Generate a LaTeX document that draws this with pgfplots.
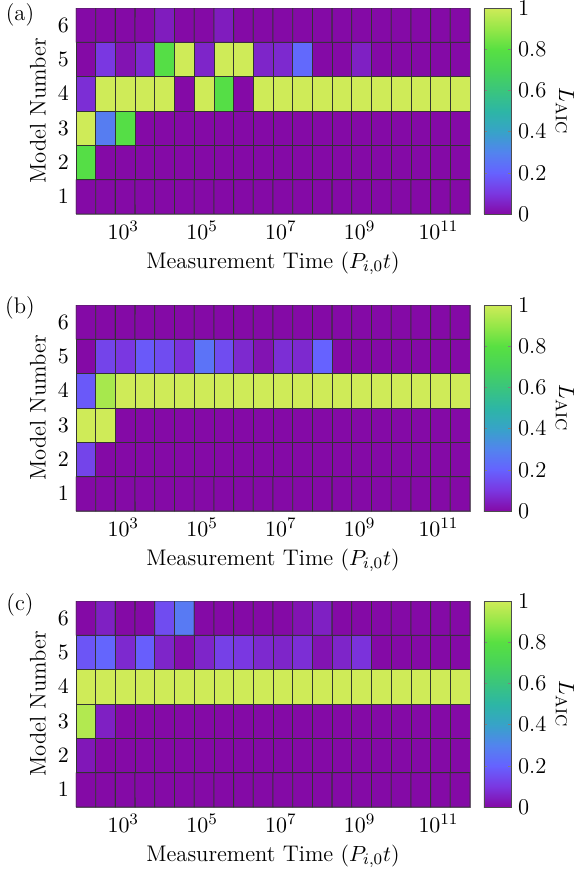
\documentclass[border=0pt]{standalone}
\usepackage{pgfplots}
\pgfplotsset{compat=1.18}
\pgfplotsset{
  colormap={aic}{rgb255(0cm)=(132,10,166); rgb255(1cm)=(122,55,225); rgb255(2cm)=(102,98,255); rgb255(3cm)=(82,132,238); rgb255(4cm)=(55,163,200); rgb255(5cm)=(45,182,165); rgb255(6cm)=(58,197,125); rgb255(7cm)=(72,212,88); rgb255(8cm)=(88,224,66); rgb255(9cm)=(150,231,72); rgb255(10cm)=(207,235,88)},
  hm/.style={
    scale only axis, width=197pt, height=103pt,
    anchor=north west,
    xmin=1.8, xmax=11.8, ymin=0.5, ymax=6.5,
    xtick={3,5,7,9,11},
    xticklabels={$10^{3}$,$10^{5}$,$10^{7}$,$10^{9}$,$10^{11}$},
    ytick={1,2,3,4,5,6},
    major tick length=0pt,
    axis line style={draw=black!55},
    colormap name=aic, point meta min=0, point meta max=1,
    colorbar,
    colorbar style={
      at={(1.0355,1)}, anchor=north west, width=13.5pt,
      ytick={0,0.2,0.4,0.6,0.8,1},
      yticklabels={0,0.2,0.4,0.6,0.8,1},
      major tick length=1.5pt,
      axis line style={draw=black!70},
      ylabel={$L_{\mathrm{AIC}}$},
      ylabel style={at={(axis description cs:3.0,0.5)}, anchor=center, rotate=180},
    },
    xlabel={Measurement Time $(P_{i,0}t)$},
    xlabel style={at={(axis description cs:0.5,-0.24)}, anchor=center},
    ylabel={Model Number},
    ylabel style={at={(axis description cs:-0.0965,0.5)}, anchor=center},
  },
  cells/.style={matrix plot*, mesh/cols=20, point meta=explicit, shader=faceted, faceted color=black!80, line width=0.4pt},
}
\begin{document}
\begin{tikzpicture}[font=\fontsize{11.3}{13.5}\selectfont]
\path[use as bounding box] (0,0) rectangle (288.5pt,-436.5pt);
% ---------------- (a)
\begin{axis}[hm, at={(38pt,-4pt)}]
\addplot[cells] coordinates {
(2.05,1)[0] (2.55,1)[0] (3.05,1)[0] (3.55,1)[0] (4.05,1)[0] (4.55,1)[0] (5.05,1)[0] (5.55,1)[0] (6.05,1)[0] (6.55,1)[0] (7.05,1)[0] (7.55,1)[0] (8.05,1)[0] (8.55,1)[0] (9.05,1)[0] (9.55,1)[0] (10.05,1)[0] (10.55,1)[0] (11.05,1)[0] (11.55,1)[0]
(2.05,2)[0.78] (2.55,2)[0] (3.05,2)[0] (3.55,2)[0] (4.05,2)[0] (4.55,2)[0] (5.05,2)[0] (5.55,2)[0] (6.05,2)[0] (6.55,2)[0] (7.05,2)[0] (7.55,2)[0] (8.05,2)[0] (8.55,2)[0] (9.05,2)[0] (9.55,2)[0] (10.05,2)[0] (10.55,2)[0] (11.05,2)[0] (11.55,2)[0]
(2.05,3)[1] (2.55,3)[0.28] (3.05,3)[0.78] (3.55,3)[0] (4.05,3)[0] (4.55,3)[0] (5.05,3)[0] (5.55,3)[0] (6.05,3)[0] (6.55,3)[0] (7.05,3)[0] (7.55,3)[0] (8.05,3)[0] (8.55,3)[0] (9.05,3)[0] (9.55,3)[0] (10.05,3)[0] (10.55,3)[0] (11.05,3)[0] (11.55,3)[0]
(2.05,4)[0.08] (2.55,4)[1] (3.05,4)[1] (3.55,4)[1] (4.05,4)[1] (4.55,4)[0] (5.05,4)[1] (5.55,4)[0.78] (6.05,4)[0] (6.55,4)[1] (7.05,4)[1] (7.55,4)[1] (8.05,4)[1] (8.55,4)[1] (9.05,4)[1] (9.55,4)[1] (10.05,4)[1] (10.55,4)[1] (11.05,4)[1] (11.55,4)[1]
(2.05,5)[0] (2.55,5)[0.1] (3.05,5)[0.02] (3.55,5)[0.07] (4.05,5)[0.78] (4.55,5)[1] (5.05,5)[0.06] (5.55,5)[1] (6.05,5)[1] (6.55,5)[0.06] (7.05,5)[0.07] (7.55,5)[0.22] (8.05,5)[0] (8.55,5)[0] (9.05,5)[0.05] (9.55,5)[0] (10.05,5)[0] (10.55,5)[0] (11.05,5)[0] (11.55,5)[0]
(2.05,6)[0] (2.55,6)[0] (3.05,6)[0] (3.55,6)[0] (4.05,6)[0.04] (4.55,6)[0] (5.05,6)[0] (5.55,6)[0.04] (6.05,6)[0] (6.55,6)[0] (7.05,6)[0] (7.55,6)[0] (8.05,6)[0] (8.55,6)[0] (9.05,6)[0] (9.55,6)[0] (10.05,6)[0] (10.55,6)[0] (11.05,6)[0] (11.55,6)[0]
};
\end{axis}
% ---------------- (b)
\begin{axis}[hm, at={(38pt,-152.5pt)}]
\addplot[cells] coordinates {
(2.05,1)[0] (2.55,1)[0] (3.05,1)[0] (3.55,1)[0] (4.05,1)[0] (4.55,1)[0] (5.05,1)[0] (5.55,1)[0] (6.05,1)[0] (6.55,1)[0] (7.05,1)[0] (7.55,1)[0] (8.05,1)[0] (8.55,1)[0] (9.05,1)[0] (9.55,1)[0] (10.05,1)[0] (10.55,1)[0] (11.05,1)[0] (11.55,1)[0]
(2.05,2)[0.13] (2.55,2)[0] (3.05,2)[0] (3.55,2)[0] (4.05,2)[0] (4.55,2)[0] (5.05,2)[0] (5.55,2)[0] (6.05,2)[0] (6.55,2)[0] (7.05,2)[0] (7.55,2)[0] (8.05,2)[0] (8.55,2)[0] (9.05,2)[0] (9.55,2)[0] (10.05,2)[0] (10.55,2)[0] (11.05,2)[0] (11.55,2)[0]
(2.05,3)[1] (2.55,3)[1] (3.05,3)[0] (3.55,3)[0] (4.05,3)[0] (4.55,3)[0] (5.05,3)[0] (5.55,3)[0] (6.05,3)[0] (6.55,3)[0] (7.05,3)[0] (7.55,3)[0] (8.05,3)[0] (8.55,3)[0] (9.05,3)[0] (9.55,3)[0] (10.05,3)[0] (10.55,3)[0] (11.05,3)[0] (11.55,3)[0]
(2.05,4)[0.18] (2.55,4)[0.93] (3.05,4)[1] (3.55,4)[1] (4.05,4)[1] (4.55,4)[1] (5.05,4)[1] (5.55,4)[1] (6.05,4)[1] (6.55,4)[1] (7.05,4)[1] (7.55,4)[1] (8.05,4)[1] (8.55,4)[1] (9.05,4)[1] (9.55,4)[1] (10.05,4)[1] (10.55,4)[1] (11.05,4)[1] (11.55,4)[1]
(2.05,5)[0] (2.55,5)[0.13] (3.05,5)[0.1] (3.55,5)[0.18] (4.05,5)[0.15] (4.55,5)[0.09] (5.05,5)[0.25] (5.55,5)[0.15] (6.05,5)[0.07] (6.55,5)[0.02] (7.05,5)[0.08] (7.55,5)[0.07] (8.05,5)[0.2] (8.55,5)[0] (9.05,5)[0] (9.55,5)[0] (10.05,5)[0] (10.55,5)[0] (11.05,5)[0] (11.55,5)[0]
(2.05,6)[0] (2.55,6)[0] (3.05,6)[0] (3.55,6)[0] (4.05,6)[0] (4.55,6)[0] (5.05,6)[0] (5.55,6)[0] (6.05,6)[0] (6.55,6)[0] (7.05,6)[0] (7.55,6)[0] (8.05,6)[0] (8.55,6)[0] (9.05,6)[0] (9.55,6)[0] (10.05,6)[0] (10.55,6)[0] (11.05,6)[0] (11.55,6)[0]
};
\end{axis}
% ---------------- (c)
\begin{axis}[hm, at={(38pt,-300.5pt)}]
\addplot[cells] coordinates {
(2.05,1)[0] (2.55,1)[0] (3.05,1)[0] (3.55,1)[0] (4.05,1)[0] (4.55,1)[0] (5.05,1)[0] (5.55,1)[0] (6.05,1)[0] (6.55,1)[0] (7.05,1)[0] (7.55,1)[0] (8.05,1)[0] (8.55,1)[0] (9.05,1)[0] (9.55,1)[0] (10.05,1)[0] (10.55,1)[0] (11.05,1)[0] (11.55,1)[0]
(2.05,2)[0.03] (2.55,2)[0] (3.05,2)[0] (3.55,2)[0] (4.05,2)[0] (4.55,2)[0] (5.05,2)[0] (5.55,2)[0] (6.05,2)[0] (6.55,2)[0] (7.05,2)[0] (7.55,2)[0] (8.05,2)[0] (8.55,2)[0] (9.05,2)[0] (9.55,2)[0] (10.05,2)[0] (10.55,2)[0] (11.05,2)[0] (11.55,2)[0]
(2.05,3)[0.95] (2.55,3)[0.05] (3.05,3)[0] (3.55,3)[0] (4.05,3)[0] (4.55,3)[0] (5.05,3)[0] (5.55,3)[0] (6.05,3)[0] (6.55,3)[0] (7.05,3)[0] (7.55,3)[0] (8.05,3)[0] (8.55,3)[0] (9.05,3)[0] (9.55,3)[0] (10.05,3)[0] (10.55,3)[0] (11.05,3)[0] (11.55,3)[0]
(2.05,4)[1] (2.55,4)[1] (3.05,4)[1] (3.55,4)[1] (4.05,4)[1] (4.55,4)[1] (5.05,4)[1] (5.55,4)[1] (6.05,4)[1] (6.55,4)[1] (7.05,4)[1] (7.55,4)[1] (8.05,4)[1] (8.55,4)[1] (9.05,4)[1] (9.55,4)[1] (10.05,4)[1] (10.55,4)[1] (11.05,4)[1] (11.55,4)[1]
(2.05,5)[0.17] (2.55,5)[0.21] (3.05,5)[0.07] (3.55,5)[0.19] (4.05,5)[0.06] (4.55,5)[0.01] (5.05,5)[0.06] (5.55,5)[0.12] (6.05,5)[0.1] (6.55,5)[0.07] (7.05,5)[0.06] (7.55,5)[0.08] (8.05,5)[0.02] (8.55,5)[0.06] (9.05,5)[0.09] (9.55,5)[0] (10.05,5)[0] (10.55,5)[0] (11.05,5)[0] (11.55,5)[0]
(2.05,6)[0] (2.55,6)[0.05] (3.05,6)[0] (3.55,6)[0] (4.05,6)[0.15] (4.55,6)[0.27] (5.05,6)[0] (5.55,6)[0] (6.05,6)[0] (6.55,6)[0] (7.05,6)[0] (7.55,6)[0.02] (8.05,6)[0.05] (8.55,6)[0] (9.05,6)[0] (9.55,6)[0] (10.05,6)[0] (10.55,6)[0] (11.05,6)[0] (11.55,6)[0]
};
\end{axis}
\node at (10pt,-7.5pt) {(a)};
\node at (10pt,-154pt) {(b)};
\node at (10pt,-302.5pt) {(c)};
\end{tikzpicture}
\end{document}
